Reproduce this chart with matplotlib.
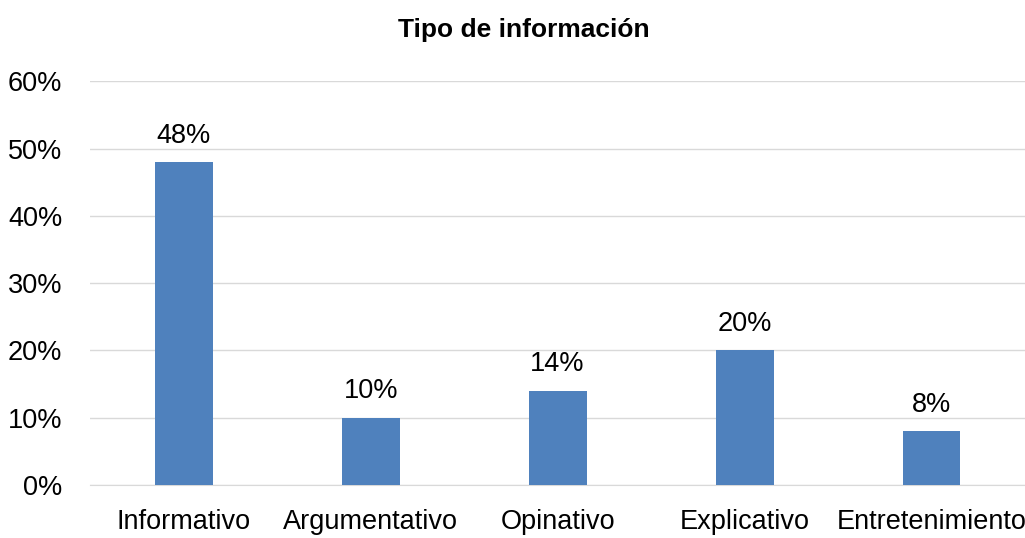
import matplotlib.pyplot as plt
from matplotlib import font_manager

categories = ['Informativo', 'Argumentativo', 'Opinativo', 'Explicativo', 'Entretenimiento']
values = [48, 10, 14, 20, 8]
yticks = [0, 10, 20, 30, 40, 50, 60]

names = {f.name for f in font_manager.fontManager.ttflist}
fam = 'Liberation Sans Narrow' if 'Liberation Sans Narrow' in names else 'Liberation Sans'
plt.rcParams['font.family'] = [fam, 'DejaVu Sans']

fig = plt.figure(figsize=(10.25, 5.38), dpi=100)
ax = fig.add_axes([0.088, 0.0985, 0.912, 0.7505])

x = range(len(categories))
ax.bar(x, values, width=0.31, color='#4F81BD', zorder=3)
for xi, v in zip(x, values):
    ax.text(xi, v + 2.0, f'{v}%', ha='center', va='bottom', fontsize=19.5, color='#000000')

ax.set_xlim(-0.5, 4.5)
ax.set_ylim(0, 60)
ax.set_yticks(yticks)
ax.set_yticklabels([f'{t}%' for t in yticks], fontsize=19.5)
ax.set_xticks(list(x))
ax.set_xticklabels(categories, fontsize=19.5)
ax.yaxis.grid(True, color='#D9D9D9', linewidth=1, zorder=0)
ax.tick_params(axis='x', length=0, pad=17)
ax.tick_params(axis='y', length=0, pad=20)
for s in ['top', 'right', 'left']:
    ax.spines[s].set_visible(False)
ax.spines['bottom'].set_color('#D9D9D9')

fig.text(0.511, 0.944, 'Tipo de información', ha='center', va='center',
         fontsize=19, fontweight='bold')

fig.savefig('out.png', dpi=100)
plt.close(fig)
